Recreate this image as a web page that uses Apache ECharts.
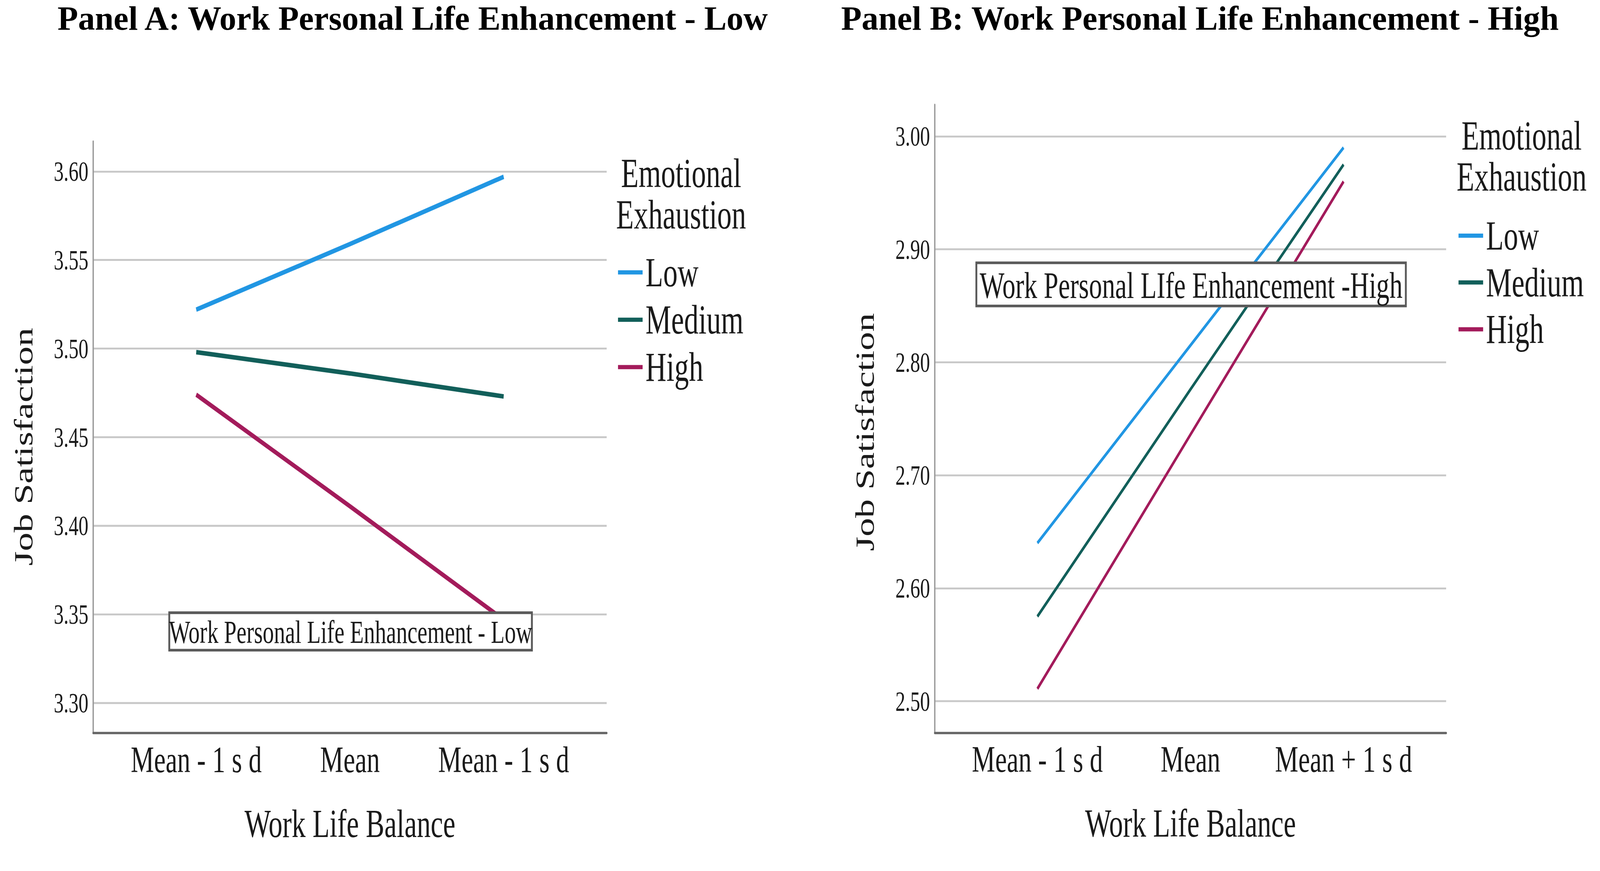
<!DOCTYPE html>
<html>
<head>
<meta charset="utf-8">
<script src="https://cdn.jsdelivr.net/npm/echarts@6/dist/echarts.min.js"></script>
<style>
html, body { margin: 0; padding: 0; overflow: hidden; background: #fff; }
#wrap { width: 4186px; height: 2230px; overflow: hidden; }
/* the source picture is squeezed sideways, so the chart is drawn wider and squeezed back */
#main { width: 6115px; height: 2280px; transform: scale(0.6846, 0.978); transform-origin: 0 0; }
</style>
</head>
<body>
<div id="wrap"><div id="main"></div></div>
<script>
var SQ = 0.7;

// panel A: Work Personal Life Enhancement - Low
var catsA = ['Mean - 1 s d', 'Mean', 'Mean - 1 s d'];
var ticksA = [3.30, 3.35, 3.40, 3.45, 3.50, 3.55, 3.60];
var lowA = [3.522, 3.559, 3.597];
var medA = [3.498, 3.486, 3.473];
var highA = [3.474, 3.411, 3.347];

// panel B: Work Personal Life Enhancement - High
var catsB = ['Mean - 1 s d', 'Mean', 'Mean + 1 s d'];
var ticksB = [2.50, 2.60, 2.70, 2.80, 2.90, 3.00];
var lowB = [2.640, 2.815, 2.990];
var medB = [2.575, 2.776, 2.975];
var highB = [2.511, 2.736, 2.960];

var groups = ['Low', 'Medium', 'High'];
var colors = ['#2196e3', '#125f5a', '#a31b5b'];

var serif = '"Liberation Serif", "Times New Roman", serif';
var ink = '#1a1a1a';

var myChart = echarts.init(document.getElementById('main'), null, { renderer: 'svg' });

function pts(arr) {
    var out = [];
    for (var i = 0; i < arr.length; i++) {
        out.push([i, arr[i]]);
    }
    return out;
}

function xAxisFor(idx, cats) {
    return {
        type: 'value',
        gridIndex: idx,
        min: -0.67,
        max: 2.67,
        name: 'Work Life Balance',
        nameLocation: 'middle',
        nameGap: 185,
        nameTextStyle: { fontFamily: serif, fontSize: 104, color: ink },
        axisLine: { show: true, onZero: false, lineStyle: { color: '#666', width: 6 } },
        axisTick: { show: false, customValues: [0, 1, 2] },
        splitLine: { show: false },
        axisLabel: {
            customValues: [0, 1, 2],
            margin: 20,
            fontFamily: serif,
            fontSize: 98,
            color: ink,
            formatter: function (v) { return cats[Math.round(v)]; }
        }
    };
}

function yAxisFor(idx, lo, hi, ticks, shift) {
    return {
        type: 'value',
        gridIndex: idx,
        min: lo,
        max: hi,
        name: 'Job Satisfaction',
        nameLocation: 'middle',
        nameRotate: 90,
        nameGap: 212,
        nameTextStyle: { fontFamily: serif, fontSize: 98, color: ink, padding: [0, shift, 0, 0] },
        axisLine: { show: true, onZero: false, lineStyle: { color: '#999', width: 5 } },
        axisTick: { show: false, customValues: ticks },
        splitLine: { show: true, lineStyle: { color: '#c8c8c8', width: 5 } },
        axisLabel: {
            customValues: ticks,
            margin: 18,
            fontFamily: serif,
            fontSize: 74,
            color: ink,
            formatter: function (v) { return v.toFixed(2); }
        }
    };
}

var seriesList = [];
var dataA = [lowA, medA, highA];
var dataB = [lowB, medB, highB];
for (var g = 0; g < groups.length; g++) {
    seriesList.push({
        name: groups[g], type: 'line', xAxisIndex: 0, yAxisIndex: 0,
        data: pts(dataA[g]), symbol: 'none', color: colors[g],
        lineStyle: { width: 12, color: colors[g] }
    });
    seriesList.push({
        name: groups[g], type: 'line', xAxisIndex: 1, yAxisIndex: 1,
        data: pts(dataB[g]), symbol: 'none', color: colors[g],
        lineStyle: { width: 8.5, color: colors[g] }
    });
}

function legendAt(left, top, gap) {
    return {
        data: groups,
        orient: 'vertical',
        left: left,
        top: top,
        padding: 0,
        itemGap: gap,
        icon: 'rect',
        itemWidth: 92,
        itemHeight: 11,
        textStyle: { fontFamily: serif, fontSize: 108, lineHeight: 110, color: ink, padding: [0, 0, 0, 6] }
    };
}

function boxText(x, y, w, h, txt, size) {
    return {
        type: 'group',
        z: 100,
        children: [
            { type: 'rect', z: 100, shape: { x: x, y: y, width: w, height: h },
              style: { fill: '#fff', stroke: '#5a5a5a', lineWidth: 7 } },
            { type: 'text', z: 101, x: x + w / 2, y: y + h / 2 + 2,
              style: { text: txt, fontFamily: serif, fontSize: size, fill: ink,
                       align: 'center', verticalAlign: 'middle' } }
        ]
    };
}

var option = {
    animation: false,
    backgroundColor: '#fff',
    grid: [
        { left: 348.6, top: 370, width: 1920, height: 1549, containLabel: false, outerBoundsMode: 'none' },
        { left: 3495.7, top: 274, width: 1912, height: 1644.5, containLabel: false, outerBoundsMode: 'none' }
    ],
    xAxis: [xAxisFor(0, catsA), xAxisFor(1, catsB)],
    yAxis: [yAxisFor(0, 3.283, 3.617, ticksA, 50), yAxisFor(1, 2.472, 3.028, ticksB, 70)],
    legend: [legendAt(2311, 658, 14), legendAt(5454, 562, 12.5)],
    series: seriesList,
    graphic: [
        { type: 'text', z: 100, x: 1543, y: 48, scaleX: 1 / SQ,
          style: { text: 'Panel A: Work Personal Life Enhancement - Low', fontFamily: serif,
                   fontWeight: 'bold', fontSize: 88, fill: '#000', align: 'center', verticalAlign: 'middle' } },
        { type: 'text', z: 100, x: 4487, y: 48, scaleX: 1 / SQ,
          style: { text: 'Panel B: Work Personal Life Enhancement - High', fontFamily: serif,
                   fontWeight: 'bold', fontSize: 88, fill: '#000', align: 'center', verticalAlign: 'middle' } },
        { type: 'text', z: 100, x: 2547, y: 508,
          style: { text: 'Emotional\nExhaustion', fontFamily: serif, fontSize: 108, lineHeight: 108,
                   fill: ink, align: 'center', verticalAlign: 'middle' } },
        { type: 'text', z: 100, x: 5690, y: 409,
          style: { text: 'Emotional\nExhaustion', fontFamily: serif, fontSize: 108, lineHeight: 108,
                   fill: ink, align: 'center', verticalAlign: 'middle' } },
        boxText(633, 1604, 1356, 98, 'Work Personal Life Enhancement - Low', 84),
        boxText(3651, 688, 1606, 113, 'Work Personal LIfe Enhancement -High', 98)
    ]
};
myChart.setOption(option);
</script>
</body>
</html>
